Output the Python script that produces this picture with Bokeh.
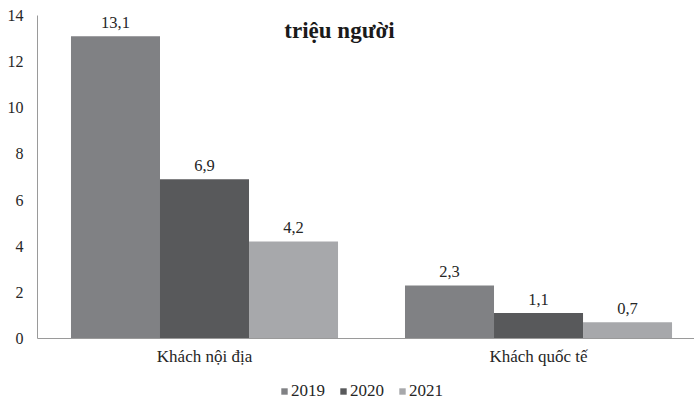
from bokeh.plotting import figure
from bokeh.layouts import column
from bokeh.models import (ColumnDataSource, Range1d, FixedTicker, Legend, LegendItem, Label)
from bokeh.core.properties import value
from bokeh.embed import file_html
from bokeh.resources import INLINE

categories = ["Khách nội địa", "Khách quốc tế"]
years = ["2019", "2020", "2021"]
values = {
    "2019": [13.1, 2.3],
    "2020": [6.9, 1.1],
    "2021": [4.2, 0.7],
}
labels = {
    "2019": ["13,1", "2,3"],
    "2020": ["6,9", "1,1"],
    "2021": ["4,2", "0,7"],
}
colors = ["#808184", "#58595b", "#a7a8ab"]
y_ticks = [0, 2, 4, 6, 8, 10, 12, 14]
unit_title = "triệu người"

FONT = "Liberation Serif"
TEXT = "#262626"

p = figure(width=694, height=370, output_backend="svg", toolbar_location=None,
           x_range=Range1d(0, 1.967), y_range=Range1d(0, 14),
           min_border_left=37, min_border_right=0, min_border_top=15, min_border_bottom=32)
p.outline_line_color = None
p.xgrid.visible = False
p.ygrid.visible = False
p.background_fill_color = "white"

bar_w = 0.2665
offsets = [-bar_w, 0.0, bar_w]
for yr, off, col in zip(years, offsets, colors):
    xs = [i + 0.5 + off for i in range(len(categories))]
    src = ColumnDataSource(dict(x=xs, top=values[yr], lab=labels[yr]))
    p.vbar(x="x", top="top", width=bar_w, bottom=0, source=src,
           fill_color=col, line_color=None)
    p.text(x="x", y="top", text="lab", source=src, text_align="center",
           text_baseline="alphabetic", y_offset=-14, text_font=value(FONT),
           text_font_size="16.5px", text_color=TEXT)

# axes
p.yaxis.ticker = FixedTicker(ticks=y_ticks)
p.yaxis.major_tick_line_color = None
p.yaxis.major_tick_out = 0
p.yaxis.minor_tick_line_color = None
p.yaxis.minor_tick_out = 0
p.yaxis.axis_line_color = "#9a9a9a"
p.yaxis.major_label_text_font = FONT
p.yaxis.major_label_text_font_size = "16px"
p.yaxis.major_label_text_color = TEXT
p.yaxis.major_label_standoff = 14

p.xaxis.ticker = FixedTicker(ticks=[i + 0.5 for i in range(len(categories))])
p.xaxis.major_label_overrides = {i + 0.5: c for i, c in enumerate(categories)}
p.xaxis.major_tick_line_color = None
p.xaxis.major_tick_out = 0
p.xaxis.minor_tick_line_color = None
p.xaxis.minor_tick_out = 0
p.xaxis.axis_line_color = "#9a9a9a"
p.xaxis.major_label_text_font = FONT
p.xaxis.major_label_text_font_size = "17px"
p.xaxis.major_label_text_color = TEXT
p.xaxis.major_label_standoff = 8

title = Label(x=0.904, y=13.35, text=unit_title, text_align="center",
              text_baseline="alphabetic", text_font=FONT, text_font_size="23px",
              text_font_style="bold", text_color="#1a1a1a")
p.add_layout(title)

# legend strip below the chart (zero-height swatch renderers, only used by the legend)
lg = figure(width=694, height=31, output_backend="svg", toolbar_location=None,
            x_axis_location=None, y_axis_location=None,
            x_range=Range1d(0, 1), y_range=Range1d(0, 1),
            min_border_left=0, min_border_right=0, min_border_top=0, min_border_bottom=0)
lg.outline_line_color = None
lg.xgrid.visible = False
lg.ygrid.visible = False
items = []
for yr, col in zip(years, colors):
    r = lg.vbar(x=[0.5], top=[0], bottom=[0], width=0.0, fill_color=col, line_color=None)
    items.append(LegendItem(label=yr, renderers=[r]))
legend = Legend(items=items, orientation="horizontal", location=(243, 0),
                glyph_width=8, glyph_height=8, label_standoff=3, spacing=14,
                padding=0, margin=0, border_line_color=None, background_fill_alpha=0,
                label_text_font=FONT, label_text_font_size="17px", label_text_color=TEXT,
                label_height=18)
lg.add_layout(legend, "center")

layout = column(p, lg, spacing=0)
open("out.html", "w").write(file_html(layout, INLINE))
